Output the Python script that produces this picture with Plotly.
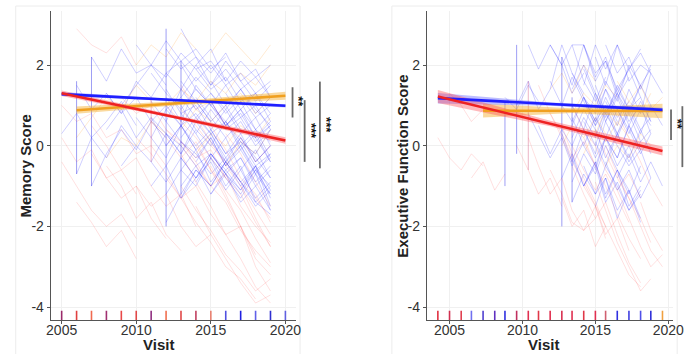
import plotly.graph_objects as go

W, H = 696, 354

# ---------------- Left panel (Memory) ----------------
# individual trajectories: (first visit year, yearly values)
L_BLUE = [
    (2011, [0.2, -0.3, 0.5, 0.8, 0.3, 0.6, 0.1, -0.2, 0.4]),
    (2012, [1.8, 2.1, 1.6, 2.0, 1.5, 1.8, 1.3, 1.6]),
    (2012, [0.9, 1.2, 0.7, 1.1, 0.5, 0.8, 0.2, 0.6]),
    (2013, [2.9, 2.2, 1.8, 2.3, 1.6, 1.9, 1.2]),
    (2013, [-0.3, -0.8, -0.4, -1.1, -0.6, -1.3, -0.9]),
    (2012, [-0.5, 0.1, -0.2, -0.7, -0.3, -0.9, -1.4, -1.0]),
    (2011, [1.1, 0.6, 1.4, 0.9, 1.3, 0.8, 1.2, 0.7, 1.0]),
    (2013, [0.5, 0.0, 0.4, -0.2, 0.1, -0.5, -0.2]),
    (2012, [1.4, 0.8, 1.0, 0.4, 0.9, 0.3, 0.7, 0.0]),
    (2014, [1.9, 1.4, 1.7, 1.1, 1.3, 0.8]),
    (2013, [1.2, 1.7, 1.3, 0.9, 1.4, 0.9, 0.5]),
    (2006, [1.5, 0.9, 1.3, 0.8, 1.2, 0.6, 1.0, 0.5]),
    (2007, [2.2, 1.6, 2.4, 1.8, 2.0, 1.5]),
    (2008, [0.4, 0.9, 0.2, 0.7, 0.0, 0.5, -0.1]),
    (2005, [0.3, 0.8, 0.2, 0.6, 1.1, 0.5]),
    (2009, [1.0, 1.5, 2.0, 1.7, 2.3, 1.9, 2.1, 1.6]),
    (2010, [2.5, 2.0, 2.6, 2.1, 2.4, 1.9, 2.2]),
    (2014, [0.3, -0.3, 0.2, -0.6, -0.1, -0.8]),
    (2013, [-1.0, -0.5, -1.2, -0.7, -1.4, -1.0, -1.6]),
    (2012, [0.0, 0.5, -0.1, 0.3, -0.4, 0.0, -0.6, -0.3]),
    (2011, [-0.4, -0.9, -0.3, -0.8, -0.2, -0.7, -1.1, -0.6, -1.2]),
    (2015, [1.6, 1.0, 1.4, 0.8, 1.2]),
    (2013, [0.8, 0.3, 0.9, 0.4, 0.7, 0.1, 0.5]),
    (2006, [-0.7, 0.2, -0.3, 0.5, 0.0]),
    (2007, [-1.0, -0.2, 0.4, -0.1, 0.6, 0.2]),
    (2016, [0.6, 0.0, 0.4, -0.3]),
    (2012, [2.4, 1.9, 2.2, 1.5, 1.9, 1.4, 1.7, 1.2]),
    (2013, [-0.6, -0.1, -0.9, -0.4, -1.0, -0.5, -1.3]),
    (2014, [-0.9, -0.3, -1.0, -0.5, -1.4, -1.7]),
    (2012, [-1.9, -1.2, -0.6, -1.0, -0.4, -0.9, -0.5, -1.1]),
    (2013, [1.6, 1.1, 0.6, 1.0, 0.4, 0.2, -0.4]),
    (2014, [2.0, 2.4, 1.6, 2.1, 1.7, 2.0]),
    (2011, [0.7, 0.3, 0.0, -0.5, -0.2, -0.6, -0.3, -0.9, -0.5]),
    (2015, [-0.2, -0.7, -0.3, -1.0, -0.6]),
    (2012, [0.3, -0.2, 0.6, 0.1, -0.4, 0.2, -0.3, -0.8]),
    (2013, [1.0, 0.4, 0.0, 0.6, -0.1, 0.3, -0.4]),
    (2011, [-1.0, -0.5, -1.3, -0.6, -1.0, -0.4, -0.9, -1.5, -1.1]),
    (2014, [0.6, 1.1, 0.5, 0.9, 0.2, 0.5]),
    (2012, [1.2, 0.6, 1.5, 1.0, 0.6, 1.1, 0.4, 0.8]),
    (2013, [-1.3, -0.8, -0.2, -0.7, -1.2, -0.6, -1.0]),
    (2015, [0.4, -0.2, 0.3, -0.4, 0.0]),
    (2012, [-1.2, -0.6, -1.0, -0.3, -0.8, -1.3, -0.7, -1.6]),
    (2013, [2.0, 1.4, 1.0, 1.5, 0.9, 1.3, 0.6]),
    (2014, [-0.4, 0.2, -0.5, 0.0, -0.7, -0.2]),
    (2016, [1.3, 0.7, 1.0, 0.4]),
    (2011, [1.8, 1.3, 0.9, 1.4, 1.0, 0.5, 0.9, 0.4, 0.1]),
    (2013, [0.2, 0.7, 0.3, -0.3, 0.2, -0.4, 0.0]),
    (2012, [0.6, 0.1, -0.3, 0.2, -0.5, -0.1, -0.7, -1.2]),
    (2014, [1.2, 0.7, 0.2, 0.6, 0.0, 0.4]),
    (2015, [-1.2, -0.6, -1.1, -0.5, -1.5]),
    (2008, [1.3, 0.8, 1.6, 1.2, 1.8, 1.4]),
    (2009, [-0.5, 0.0, -0.4, 0.3, -0.2, 0.4]),
    (2010, [0.7, 0.2, 0.9, 0.5, 1.1, 0.6]),
    (2013, [1.4, 2.0, 1.5, 2.1, 1.6, 1.1, 1.5]),
]
L_RED = [
    (2005, [1.0, 0.6, 0.8, 0.2, 0.4, -0.2, 0.0, -0.5]),
    (2005, [0.2, -0.4, -0.1, -0.8, -0.6, -1.2]),
    (2006, [2.9, 2.5, 2.3, 2.7, 2.0]),
    (2007, [0.5, 0.0, -0.6, -0.3, -1.0, -1.5, -1.2, -2.0]),
    (2008, [-0.5, -1.0, -1.8, -1.4, -2.2, -2.6]),
    (2006, [-1.4, -1.9, -2.5, -2.1, -2.8]),
    (2012, [0.4, 0.0, -0.5, -1.0, -1.4, -2.1, -2.6, -3.0]),
    (2013, [-0.2, -0.9, -1.5, -2.2, -2.8, -3.5, -3.9]),
    (2014, [0.0, -0.6, -1.3, -2.0, -3.0, -3.6]),
    (2013, [0.9, 0.5, 0.0, -0.4, -0.9, -1.3, -1.8]),
    (2011, [0.6, 0.2, -0.3, 0.1, -0.6, -1.1, -1.6, -2.3, -2.9]),
    (2012, [-0.8, -1.3, -1.9, -2.4, -3.0, -3.3, -3.8]),
    (2015, [-0.5, -1.2, -2.0, -2.8, -3.2]),
    (2010, [0.2, -0.2, -0.7, -1.3, -1.0, -1.7, -2.2, -2.0, -2.7]),
    (2009, [1.2, 0.8, 1.0, 0.4, 0.1, -0.3, -0.1, -0.8]),
    (2016, [0.3, -0.2, -0.9, -1.5]),
    (2013, [1.5, 0.9, 1.1, 0.5, 0.2, -0.4, 0.0]),
    (2014, [-1.5, -2.2, -2.8, -3.4, -3.9, -3.7]),
    (2005, [-0.4, -1.0, -1.6, -2.0, -1.7, -2.3]),
    (2017, [-1.0, -1.8, -2.5]),
    (2013, [0.1, -0.4, -1.0, -0.7, -1.5, -2.0, -2.4]),
    (2007, [-0.2, -0.8, -1.3, -1.0, -1.8, -2.3]),
    (2012, [1.0, 0.6, 0.2, -0.3, -0.8, -1.2, -1.9, -2.5]),
    (2014, [0.7, 0.1, -0.5, -1.0, -1.6, -2.2]),
    (2010, [-1.0, -1.5, -1.2, -2.0, -2.5, -2.2]),
    (2015, [0.5, -0.1, -0.8, -1.2, -1.9]),
    (2013, [-1.0, -1.6, -2.1, -2.7, -3.1, -3.6, -3.3]),
]
L_ORANGE = [
    (2006, [0.2, 0.7, 1.2, 0.9, 1.5, 1.1]),
    (2012, [1.0, 1.4, 1.1, 1.6, 1.3, 1.8, 1.5, 2.0]),
    (2013, [0.4, 0.9, 0.6, 1.0, 1.3, 0.8, 1.2]),
    (2015, [2.3, 2.8, 2.4, 2.0, 2.5]),
    (2008, [-0.3, 0.2, 0.0, 0.6, 0.3]),
    (2014, [-0.2, 0.3, 0.0, 0.5, 0.2, 0.7]),
    (2010, [2.0, 2.5, 2.2, 2.8, 2.4]),
    (2016, [-0.5, 0.1, -0.2, 0.4]),
]
# same-year repeated visits (vertical strokes): x, low, high
L_VERT_X = [2006, 2007, 2012, 2013, 2011]
L_VERT_LO = [-0.7, -1.0, -2.0, -1.2, -0.4]
L_VERT_HI = [1.6, 2.2, 2.9, 2.1, 1.2]
L_VERT_GRP = ["b", "b", "b", "b", "r"]

# fitted lines: knots, fitted values, CI half-widths
L_FIT_X = [2005, 2012.5, 2020]
L_BLUE_FIT = [1.28, 1.135, 0.99]
L_BLUE_CI = [0.05, 0.025, 0.04]
L_RED_FIT = [1.30, 0.72, 0.13]
L_RED_CI = [0.07, 0.04, 0.08]
L_ORANGE_FIT_X = [2006, 2013, 2020]
L_ORANGE_FIT = [0.88, 1.06, 1.24]
L_ORANGE_CI = [0.09, 0.05, 0.10]

L_RUG_X = list(range(2005, 2021))
L_RUG_COL = ["#9a2a6a", "#e04040", "#f06a50", "#a03070", "#e84848", "#e04848",
             "#903080", "#f07050", "#e04848", "#c04060", "#e88070", "#5050e0",
             "#2020e0", "#6060e8", "#3030d0", "#6060e0"]

# ---------------- Right panel (Executive function) ----------------
R_VISITS = [2004.2, 2005.0, 2005.8, 2006.5, 2007.3, 2008.1, 2008.8, 2009.6,
            2010.4, 2011.1, 2011.9, 2012.7, 2013.4, 2014.2, 2015.0, 2015.7,
            2016.5, 2017.3, 2018.1, 2018.8, 2019.6]
R_BLUE = [
    (11, [2.2, 1.5, 2.5, 1.8, 2.1, 1.4, 1.9, 1.2]),
    (12, [0.5, 1.2, 0.6, 1.0, 0.3, 0.8, 0.1, 0.4]),
    (11, [-0.8, -0.2, -1.0, -0.4, -1.3, -0.6, -1.1]),
    (13, [1.5, 2.5, 1.9, 2.5, 1.6, 2.0, 1.8]),
    (7, [1.0, 1.6, 0.9, 1.4, 2.5, 1.8, 1.3]),
    (12, [-1.4, -0.7, -1.2, -0.5, -1.0, -1.6, -1.1]),
    (13, [0.0, 0.7, 0.2, 0.9, 0.4, -0.2, 0.3]),
    (8, [2.5, 1.9, 2.5, 2.0, 1.3, 1.8]),
    (12, [1.0, 0.4, 1.3, 0.7, 1.5, 0.9, 1.2, 0.6]),
    (14, [-0.6, 0.2, -0.3, 0.5, -0.1, -0.8]),
    (11, [0.3, -0.4, 0.4, -0.2, 0.6, 0.0, -0.5, -0.1]),
    (13, [2.5, 1.7, 2.2, 1.3, 1.9, 2.4]),
    (15, [1.1, 0.5, 1.4, 0.8, 1.8, 1.3]),
    (12, [-0.3, -1.0, -0.5, -1.4, -0.9, -1.6, -1.2]),
    (10, [1.6, 1.0, 0.6, 1.2, 0.5, 0.9, 0.2]),
    (14, [0.9, 1.6, 1.1, 2.0, 1.5, 1.9]),
    (13, [-1.0, -0.4, -1.2, -0.6, -1.5, -1.0]),
    (16, [0.2, 0.9, 0.3, 1.0, 0.5]),
    (12, [1.8, 1.2, 0.8, 1.4, 0.7, 1.1]),
    (9, [0.5, -0.2, 0.4, 0.0, 0.7, 0.2, 0.9]),
    (14, [2.2, 1.5, 2.5, 1.9, 2.3, 1.8]),
    (15, [-0.4, -1.1, -0.6, -1.3, -0.8]),
    (6, [1.2, 0.9, 1.5, 1.1]),
    (13, [0.6, 0.0, 0.8, 0.3, 1.0, 0.4, 0.7]),
    (12, [2.5, 2.5, 1.6, 2.1, 1.2, 1.7]),
    (14, [-1.5, -0.8, -1.8, -1.1, -1.9]),
    (12, [0.2, 0.9, 0.4, -0.3, 0.3, -0.4, 0.1]),
    (13, [1.2, 0.6, 1.4, 0.9, 0.3, 0.9, 0.5]),
    (11, [1.0, 1.7, 1.1, 0.5, 1.2, 0.6]),
    (12, [-0.9, -0.2, -0.7, 0.0, -0.6, -1.2, -0.5]),
    (14, [0.1, -0.5, 0.3, -0.3, 0.4, -0.2]),
    (13, [1.9, 1.2, 0.6, 1.3, 0.8, 1.5, 1.0]),
    (15, [2.5, 1.8, 2.2, 1.4, 2.0]),
    (12, [0.7, 0.0, -0.5, 0.2, -0.3, 0.5, -0.1]),
    (13, [-0.5, -1.2, -0.8, -1.6, -1.1, -1.8]),
    (14, [1.5, 0.8, 1.3, 0.6, 1.0, 0.3]),
    (10, [2.5, 2.0, 2.5, 1.6, 1.1, 1.7]),
    (8, [0.8, 0.3, -0.3, 0.2, -0.5, 0.1]),
    (16, [-0.8, -0.2, -0.9, -0.4, -1.0]),
    (12, [1.4, 2.0, 1.3, 0.8, 1.4, 0.9, 1.5]),
    (13, [0.4, -0.3, 0.2, -0.5, 0.0, -0.7]),
    (15, [0.6, 1.2, 0.5, 1.1, 0.6]),
]
R_ORANGE = [
    (12, [0.8, 1.3, 1.0, 1.5, 1.2]),
    (14, [0.3, 0.9, 0.5, 1.1, 0.8, 1.3]),
    (10, [1.4, 1.8, 1.3, 2.0, 1.6]),
    (13, [-0.2, 0.4, 0.1, 0.6, 0.2]),
    (16, [1.6, 1.1, 1.5, 0.9, 1.2]),
    (11, [0.0, 0.5, 0.2, 0.7, 0.3]),
    (15, [-0.5, 0.0, -0.3, 0.3, 0.0]),
]
R_RED = [
    (0, [0.2, -0.3, -0.6, -0.2, -0.5]),
    (1, [1.3, 1.0, 0.6, 0.9]),
    (8, [0.2, -0.5, -1.2, -0.8, -1.6, -2.1, -1.8]),
    (11, [0.5, -0.2, -0.8, -1.4, -2.0, -2.6, -3.2, -3.5]),
    (12, [-0.5, -1.2, -1.8, -1.4, -2.2, -2.9, -3.4]),
    (9, [1.5, 0.8, 0.2, -0.4, -0.9, -1.5, -2.0]),
    (13, [0.2, -0.5, -1.0, -1.7, -2.3, -2.8]),
    (10, [-0.6, -1.2, -1.9, -2.1, -1.5, -2.3]),
    (14, [-0.9, -1.6, -2.4, -3.0, -3.6, -3.3]),
    (7, [0.0, -0.6, -1.2, -0.8, -1.5]),
    (12, [1.0, 0.4, 0.0, -0.6, -1.1, -0.7, -1.3]),
    (15, [0.0, -0.7, -1.3, -2.0, -2.6, -3.0]),
    (11, [-1.3, -2.0, -1.6, -2.5, -2.0]),
    (3, [-0.8, -0.4, -1.1, -0.7]),
    (16, [0.8, 0.2, -0.4, -1.0, -1.5]),
    (18, [-1.4, -2.1, -2.6]),
    (12, [0.0, -0.6, -1.1, -0.7, -1.3, -1.9]),
    (13, [-1.0, -1.5, -2.2, -1.8, -2.6]),
    (14, [0.4, -0.2, -0.8, -1.3, -1.8, -2.4]),
    (10, [0.8, 0.3, -0.3, 0.1, -0.5]),
    (16, [-1.1, -1.8, -2.5, -3.0, -2.7]),
]
R_VERT_IDX = [6, 7, 11, 12, 8]
R_VERT_LO = [-1.0, -0.2, -2.0, -1.4, -0.6]
R_VERT_HI = [1.1, 2.5, 2.2, 1.2, 1.6]
R_VERT_GRP = ["b", "b", "b", "b", "r"]

R_FIT_X = [2004.2, 2011.9, 2019.6]
R_BLUE_FIT = [1.18, 1.03, 0.89]
R_BLUE_CI = [0.13, 0.04, 0.05]
R_RED_FIT = [1.22, 0.55, -0.13]
R_RED_CI = [0.16, 0.07, 0.11]
R_ORANGE_FIT_X = [2007.3, 2013.4, 2019.6]
R_ORANGE_FIT = [0.87, 0.87, 0.86]
R_ORANGE_CI = [0.17, 0.06, 0.18]

R_RUG_COL = ["#e03040", "#d03050", "#e04050", "#7070f0", "#5040d0", "#6030c0",
             "#3030e0", "#c03060", "#e03050", "#e03848", "#e03050", "#d83050",
             "#e03050", "#e03848", "#e03050", "#d06070", "#3030e0", "#4040e0",
             "#5050e8", "#3030d8", "#f0a040"]

# ---------------- styles ----------------
SP_COL = {"b": "rgba(30,30,255,0.21)", "r": "rgba(255,50,50,0.15)",
          "o": "rgba(255,150,30,0.2)"}
VERT_COL = {"b": "rgba(40,40,230,0.45)", "r": "rgba(200,40,90,0.35)"}
FIT_COL = {"b": "#1f1fff", "r": "#ee2222", "o": "#f0a020"}
BAND_COL = {"b": "rgba(70,70,255,0.35)", "r": "rgba(255,70,80,0.38)",
            "o": "rgba(245,170,40,0.45)"}
RUG_LO, RUG_HI = -4.09, -4.32

fig = go.Figure()


def add_traj(xs, ys, col, xa, ya):
    fig.add_trace(go.Scatter(x=xs, y=ys, mode="lines", xaxis=xa, yaxis=ya,
                             line=dict(color=col, width=1), hoverinfo="skip"))


def add_fit(xk, yk, ck, key, xa, ya):
    up = [y + c for y, c in zip(yk, ck)]
    lo = [y - c for y, c in zip(yk, ck)]
    fig.add_trace(go.Scatter(x=list(xk) + list(xk)[::-1], y=up + lo[::-1],
                             mode="lines", fill="toself", fillcolor=BAND_COL[key],
                             line=dict(width=0), xaxis=xa, yaxis=ya, hoverinfo="skip"))


def add_fit_line(xk, yk, key, xa, ya):
    fig.add_trace(go.Scatter(x=xk, y=yk, mode="lines", xaxis=xa, yaxis=ya,
                             line=dict(color=FIT_COL[key], width=2.6), hoverinfo="skip"))


# left spaghetti
for grp, data in (("o", L_ORANGE), ("r", L_RED), ("b", L_BLUE)):
    for start, vals in data:
        add_traj([start + i for i in range(len(vals))], vals, SP_COL[grp], "x", "y")
for xv, lo, hi, g in zip(L_VERT_X, L_VERT_LO, L_VERT_HI, L_VERT_GRP):
    add_traj([xv, xv], [lo, hi], VERT_COL[g], "x", "y")

# right spaghetti
for grp, data in (("o", R_ORANGE), ("r", R_RED), ("b", R_BLUE)):
    for start, vals in data:
        add_traj(R_VISITS[start:start + len(vals)], vals, SP_COL[grp], "x2", "y2")
for idx, lo, hi, g in zip(R_VERT_IDX, R_VERT_LO, R_VERT_HI, R_VERT_GRP):
    add_traj([R_VISITS[idx], R_VISITS[idx]], [lo, hi], VERT_COL[g], "x2", "y2")

# fits left
add_fit(L_ORANGE_FIT_X, L_ORANGE_FIT, L_ORANGE_CI, "o", "x", "y")
add_fit(L_FIT_X, L_BLUE_FIT, L_BLUE_CI, "b", "x", "y")
add_fit(L_FIT_X, L_RED_FIT, L_RED_CI, "r", "x", "y")
add_fit_line(L_ORANGE_FIT_X, L_ORANGE_FIT, "o", "x", "y")
add_fit_line(L_FIT_X, L_BLUE_FIT, "b", "x", "y")
add_fit_line(L_FIT_X, L_RED_FIT, "r", "x", "y")
# fits right
add_fit(R_ORANGE_FIT_X, R_ORANGE_FIT, R_ORANGE_CI, "o", "x2", "y2")
add_fit(R_FIT_X, R_BLUE_FIT, R_BLUE_CI, "b", "x2", "y2")
add_fit(R_FIT_X, R_RED_FIT, R_RED_CI, "r", "x2", "y2")
add_fit_line(R_ORANGE_FIT_X, R_ORANGE_FIT, "o", "x2", "y2")
add_fit_line(R_FIT_X, R_BLUE_FIT, "b", "x2", "y2")
add_fit_line(R_FIT_X, R_RED_FIT, "r", "x2", "y2")

# rugs
for xv, c in zip(L_RUG_X, L_RUG_COL):
    fig.add_trace(go.Scatter(x=[xv, xv], y=[RUG_LO, RUG_HI], mode="lines",
                             line=dict(color=c, width=1.6), xaxis="x", yaxis="y",
                             hoverinfo="skip"))
for xv, c in zip(R_VISITS, R_RUG_COL):
    fig.add_trace(go.Scatter(x=[xv, xv], y=[RUG_LO, RUG_HI], mode="lines",
                             line=dict(color=c, width=1.6), xaxis="x2", yaxis="y2",
                             hoverinfo="skip"))

FONT = "Liberation Sans, Arial, sans-serif"
ax_common = dict(showline=True, linecolor="#555", linewidth=1.4, ticks="outside",
                 ticklen=3, tickcolor="#555", showgrid=True, gridcolor="#f0f0f0",
                 zeroline=False, tickfont=dict(family=FONT, size=14, color="#333"))
YTICKS = [-4, -2, 0, 2]
YTEXT = ["-4", "-2", "0", "2"]
XTICKS = [2005, 2010, 2015, 2020]
ydom = [34 / H, 343 / H]

fig.update_layout(
    width=W, height=H, margin=dict(l=0, r=0, t=0, b=0),
    paper_bgcolor="white", plot_bgcolor="white", showlegend=False,
    xaxis=dict(domain=[47 / W, 298 / W], range=[2004.28, 2020.72], anchor="y",
               tickvals=XTICKS, ticklabelstandoff=-6, **ax_common),
    yaxis=dict(domain=ydom, range=[-4.32, 3.34], anchor="x",
               tickvals=YTICKS, ticktext=YTEXT, **ax_common),
    xaxis2=dict(domain=[432 / W, 683.7 / W], range=[2003.46, 2020.32], anchor="y2",
                tickvals=XTICKS, ticklabelstandoff=-6, **ax_common),
    yaxis2=dict(domain=ydom, range=[-4.32, 3.34], anchor="x2",
                tickvals=YTICKS, ticktext=YTEXT, **ax_common),
)

# panel frames (faint)
for x0, x1 in ((11, 302), (396, 688)):
    fig.add_shape(type="rect", xref="paper", yref="paper", x0=x0 / W, x1=x1 / W,
                  y0=-0.01, y1=(H - 6) / H, line=dict(color="#ececec", width=1),
                  layer="below")

# significance brackets
BR_L_X = [294.3, 306.7, 322.3]
BR_L_LO = [0.70, -0.40, -0.56]
BR_L_HI = [1.45, 1.13, 1.59]
STAR_L_X = [300.5, 313, 329]
STAR_L_Y = [1.09, 0.37, 0.50]
STAR_L_T = ["**", "***", "***"]
BR_R_X = [681.7, 693.3]
BR_R_LO = [0.14, -0.53]
BR_R_HI = [0.90, 0.98]
STAR_R_X = [688.5]
STAR_R_Y = [0.53]
STAR_R_T = ["**"]

for xb, lo, hi in zip(BR_L_X, BR_L_LO, BR_L_HI):
    fig.add_shape(type="line", xref="paper", yref="y", x0=xb / W, x1=xb / W,
                  y0=lo, y1=hi, line=dict(color="#6a6a6a", width=1.8))
for xb, lo, hi in zip(BR_R_X, BR_R_LO, BR_R_HI):
    fig.add_shape(type="line", xref="paper", yref="y2", x0=xb / W, x1=xb / W,
                  y0=lo, y1=hi, line=dict(color="#6a6a6a", width=1.8))
STAR_FONT = dict(family=FONT, size=13, color="#111")
for xs, ys, t in zip(STAR_L_X, STAR_L_Y, STAR_L_T):
    fig.add_annotation(x=xs / W, y=ys, xref="paper", yref="y", text="<b>" + t + "</b>",
                       textangle=90, xanchor="center", yanchor="middle",
                       showarrow=False, font=STAR_FONT)
for xs, ys, t in zip(STAR_R_X, STAR_R_Y, STAR_R_T):
    fig.add_annotation(x=xs / W, y=ys, xref="paper", yref="y2", text="<b>" + t + "</b>",
                       textangle=90, xanchor="center", yanchor="middle",
                       showarrow=False, font=STAR_FONT)

# axis titles
TITLE_FONT = dict(family=FONT, size=15, color="#222")
for tx, ty, txt, ang in ((20, 166, "<b>Memory Score</b>", -90),
                         (406, 166, "<b>Executive Function Score</b>", -90),
                         (157, 344, "<b>Visit</b>", 0),
                         (551, 344, "<b>Visit</b>", 0)):
    fig.add_annotation(x=tx / W, y=(H - ty) / H, xref="paper", yref="paper",
                       xanchor="center", yanchor="middle", text=txt, textangle=ang,
                       showarrow=False, font=TITLE_FONT)

fig.write_html("out.html")
